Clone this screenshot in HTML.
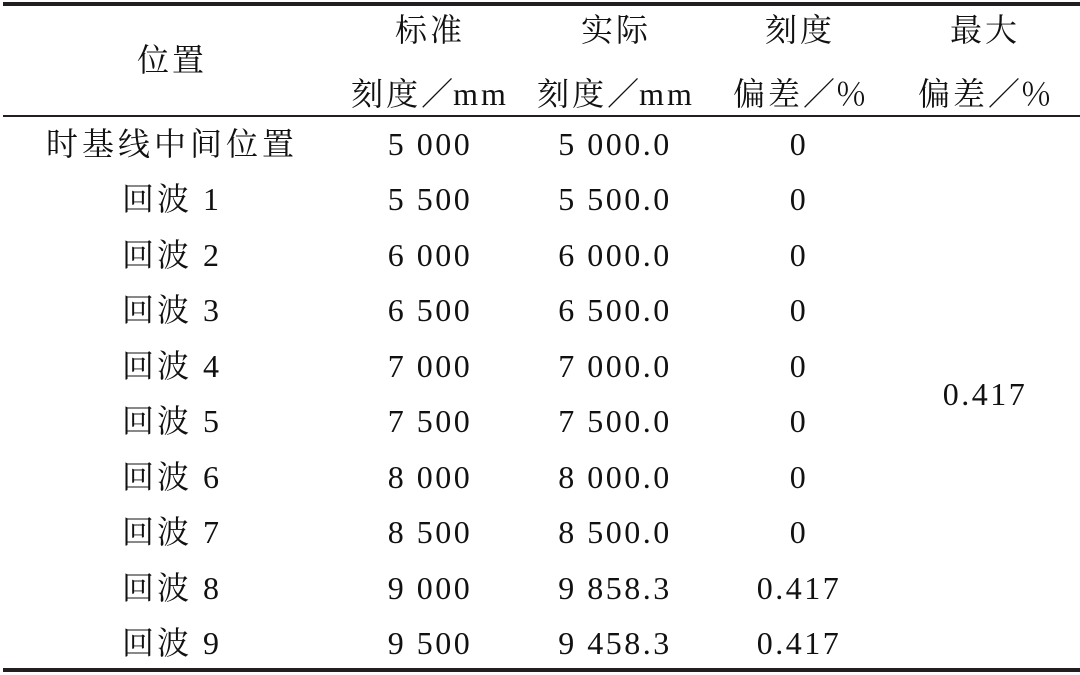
<!DOCTYPE html>
<html><head><meta charset="utf-8"><style>
body{margin:0;width:1080px;height:675px;background:#fff;position:relative;overflow:hidden;font-family:"Liberation Serif","Noto Serif CJK SC",serif;color:#111;}
.l{position:absolute;left:3px;width:1077px;background:#231f20}
.t{position:absolute;font-size:32px;line-height:40px;white-space:nowrap;transform:translateX(-50%);letter-spacing:3px}
.n{letter-spacing:2.5px}
.c{font-family:"Noto Serif CJK SC",serif;letter-spacing:0}
</style></head><body>
<div class="l" style="top:2px;height:4px"></div>
<div class="l" style="top:115px;height:2px"></div>
<div class="l" style="top:668px;height:4px"></div>
<div class="t" style="left:172px;top:40px">位置</div>
<div class="t" style="left:430px;top:10px">标准</div>
<div class="t" style="left:430px;top:72px">刻度<span class="c">／</span>mm</div>
<div class="t" style="left:616px;top:10px">实际</div>
<div class="t" style="left:616px;top:72px">刻度<span class="c">／</span>mm</div>
<div class="t" style="left:800px;top:10px">刻度</div>
<div class="t" style="left:800px;top:72px">偏差<span class="c">／％</span></div>
<div class="t" style="left:985px;top:10px">最大</div>
<div class="t" style="left:985px;top:72px">偏差<span class="c">／％</span></div>
<div class="t" style="left:172px;top:124px;letter-spacing:4px">时基线中间位置</div>
<div class="t" style="left:172px;top:179px">回波 1</div>
<div class="t" style="left:172px;top:235px">回波 2</div>
<div class="t" style="left:172px;top:290px">回波 3</div>
<div class="t" style="left:172px;top:346px">回波 4</div>
<div class="t" style="left:172px;top:401px">回波 5</div>
<div class="t" style="left:172px;top:457px">回波 6</div>
<div class="t" style="left:172px;top:512px">回波 7</div>
<div class="t" style="left:172px;top:568px">回波 8</div>
<div class="t" style="left:172px;top:623px">回波 9</div>
<div class="t n" style="left:430px;top:124px">5 000</div>
<div class="t n" style="left:430px;top:179px">5 500</div>
<div class="t n" style="left:430px;top:235px">6 000</div>
<div class="t n" style="left:430px;top:290px">6 500</div>
<div class="t n" style="left:430px;top:346px">7 000</div>
<div class="t n" style="left:430px;top:401px">7 500</div>
<div class="t n" style="left:430px;top:457px">8 000</div>
<div class="t n" style="left:430px;top:512px">8 500</div>
<div class="t n" style="left:430px;top:568px">9 000</div>
<div class="t n" style="left:430px;top:623px">9 500</div>
<div class="t n" style="left:615px;top:124px">5 000.0</div>
<div class="t n" style="left:615px;top:179px">5 500.0</div>
<div class="t n" style="left:615px;top:235px">6 000.0</div>
<div class="t n" style="left:615px;top:290px">6 500.0</div>
<div class="t n" style="left:615px;top:346px">7 000.0</div>
<div class="t n" style="left:615px;top:401px">7 500.0</div>
<div class="t n" style="left:615px;top:457px">8 000.0</div>
<div class="t n" style="left:615px;top:512px">8 500.0</div>
<div class="t n" style="left:615px;top:568px">9 858.3</div>
<div class="t n" style="left:615px;top:623px">9 458.3</div>
<div class="t n" style="left:799px;top:124px">0</div>
<div class="t n" style="left:799px;top:179px">0</div>
<div class="t n" style="left:799px;top:235px">0</div>
<div class="t n" style="left:799px;top:290px">0</div>
<div class="t n" style="left:799px;top:346px">0</div>
<div class="t n" style="left:799px;top:401px">0</div>
<div class="t n" style="left:799px;top:457px">0</div>
<div class="t n" style="left:799px;top:512px">0</div>
<div class="t n" style="left:799px;top:568px">0.417</div>
<div class="t n" style="left:799px;top:623px">0.417</div>
<div class="t n" style="left:985px;top:374px">0.417</div>
</body></html>
